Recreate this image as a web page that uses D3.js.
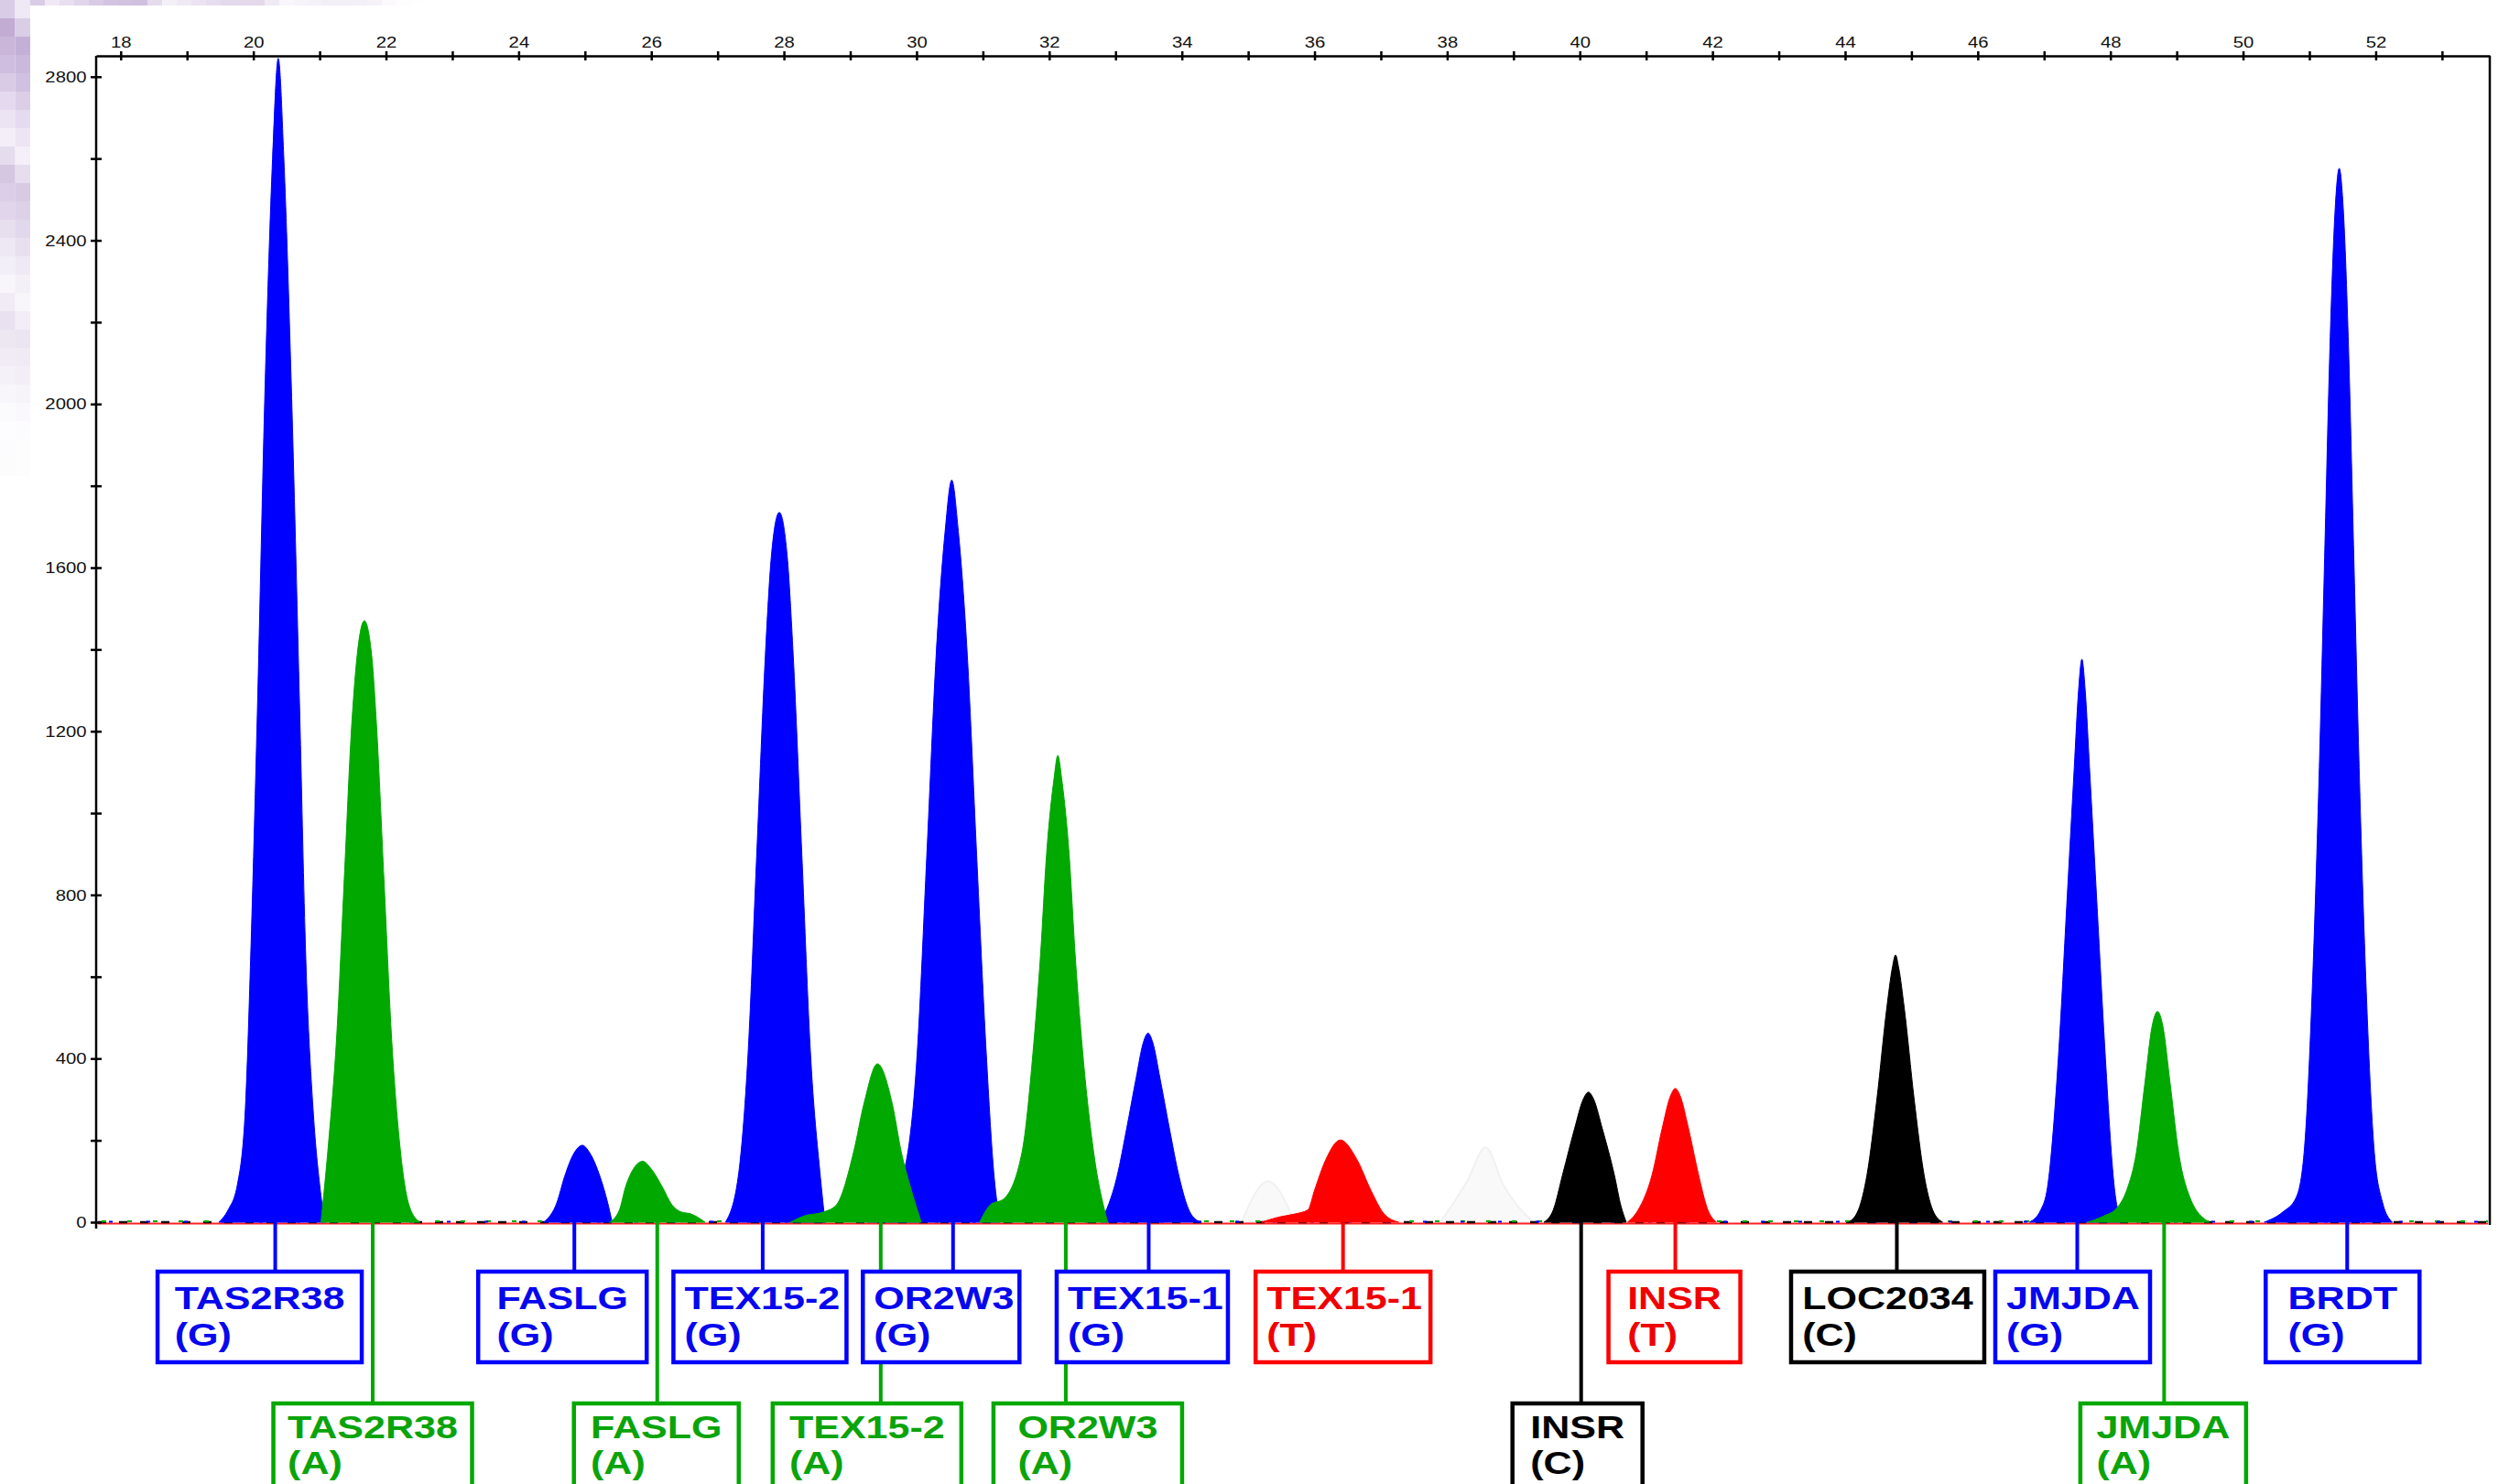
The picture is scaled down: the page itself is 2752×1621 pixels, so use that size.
<!DOCTYPE html>
<html>
<head>
<meta charset="utf-8">
<script src="https://cdn.jsdelivr.net/npm/d3@7/dist/d3.min.js"></script>
<style>
  body { margin: 0; background: #fff; }
  svg { display: block; }
</style>
</head>
<body>
<script>
// electropherogram, SNaPshot style: size (top axis) vs RFU (left axis)

// axis ticks
var sizeTicks = [18, 20, 22, 24, 26, 28, 30, 32, 34, 36, 38, 40, 42, 44, 46, 48, 50, 52];
var sizeMinorTicks = [19, 21, 23, 25, 27, 29, 31, 33, 35, 37, 39, 41, 43, 45, 47, 49, 51, 53];
var rfuTicks = [0, 400, 800, 1200, 1600, 2000, 2400, 2800];
var rfuMinorTicks = [200, 600, 1000, 1400, 1800, 2200, 2600];

// peak traces, [size, rfu]
var tas2r38G = [[19.48,0],[19.62,30],[19.76,92],[19.88,278],[19.96,649],[20.06,1242],[20.18,2059],[20.29,2600],[20.376,2845],[20.46,2600],[20.57,2059],[20.70,1242],[20.79,649],[20.90,278],[21.0,92],[21.05,30],[21.10,0]];
var tas2r38A = [[21.02,0],[21.13,186],[21.26,463],[21.37,835],[21.48,1206],[21.57,1392],[21.674,1470],[21.78,1392],[21.86,1206],[21.97,835],[22.08,463],[22.21,186],[22.35,40],[22.51,0]];
var faslgG = [[24.38,0],[24.58,49],[24.69,110],[24.84,170],[24.96,188],[25.07,170],[25.23,110],[25.34,49],[25.41,0]];
var faslgA = [[25.37,0],[25.52,30],[25.61,85],[25.75,135],[25.87,149],[26.0,130],[26.17,85],[26.3,45],[26.45,25],[26.6,20],[26.7,12],[26.81,0]];
var tex152G = [[27.12,0],[27.31,110],[27.46,414],[27.59,899],[27.72,1385],[27.81,1627],[27.93,1735],[28.05,1627],[28.14,1385],[28.27,899],[28.40,414],[28.55,110],[28.62,0]];
var tex152A = [[28.1,0],[28.3,15],[28.6,25],[28.79,42],[29.05,171],[29.21,292],[29.41,387],[29.63,292],[29.77,171],[29.9,90],[30.07,0]];
var or2w3G = [[29.26,0],[29.55,40],[29.79,110],[30.01,414],[30.155,899],[30.295,1385],[30.43,1688],[30.53,1814],[30.63,1688],[30.765,1385],[30.905,899],[31.05,414],[31.17,110],[31.26,0]];
var or2w3A = [[30.95,0],[31.13,45],[31.3,55],[31.59,171],[31.755,414],[31.87,656],[31.96,899],[32.07,1081],[32.13,1141],[32.19,1081],[32.30,899],[32.39,656],[32.505,414],[32.67,171],[32.88,0]];
var tex151G = [[32.78,0],[33.02,110],[33.17,231],[33.31,352],[33.42,440],[33.49,462],[33.56,440],[33.67,352],[33.81,231],[33.96,110],[34.12,25],[34.28,0]];
var tex151T = [[35.2,0],[35.45,12],[35.7,20],[35.9,30],[36.0,78],[36.17,153],[36.39,201],[36.64,153],[36.85,78],[37.05,20],[37.27,0]];
var insrC = [[39.46,0],[39.6,30],[39.74,116],[39.92,228],[40.05,300],[40.13,318],[40.21,300],[40.34,228],[40.52,116],[40.62,40],[40.70,0]];
var insrT = [[40.72,0],[40.88,30],[41.09,116],[41.24,228],[41.37,310],[41.44,327],[41.51,310],[41.64,228],[41.79,116],[41.93,30],[42.06,0]];
var loc2034C = [[44.05,0],[44.2,30],[44.33,116],[44.48,302],[44.63,526],[44.71,620],[44.76,653],[44.81,620],[44.89,526],[45.04,302],[45.19,116],[45.32,30],[45.47,0]];
var jmjdaG = [[46.78,0],[46.95,30],[47.05,84],[47.225,427],[47.34,769],[47.455,1111],[47.52,1300],[47.57,1376],[47.62,1300],[47.685,1111],[47.80,769],[47.915,427],[48.06,84],[48.17,0]];
var jmjdaA = [[47.65,0],[47.9,15],[48.1,35],[48.25,80],[48.39,169],[48.52,340],[48.63,480],[48.71,515],[48.79,480],[48.9,340],[49.03,169],[49.2,60],[49.49,0]];
var brdtG = [[50.32,0],[50.6,25],[50.80,60],[50.92,169],[51.05,597],[51.15,1111],[51.23,1625],[51.31,2139],[51.39,2480],[51.45,2576],[51.51,2480],[51.59,2139],[51.67,1625],[51.75,1111],[51.85,597],[51.98,169],[52.1,50],[52.25,0]];

// faint ghost peaks in the background
var ghostA = [[34.9,0],[35.3,100],[35.7,0]];
var ghostB = [[37.9,0],[38.3,100],[38.58,183],[38.85,90],[39.3,0]];

// allele calls
var markers = ["TAS2R38", "TAS2R38", "FASLG", "FASLG", "TEX15-2", "TEX15-2", "OR2W3", "OR2W3", "TEX15-1", "TEX15-1", "INSR", "INSR", "LOC2034", "JMJDA", "JMJDA", "BRDT"];
var alleles = ["G", "A", "G", "A", "G", "A", "G", "A", "G", "T", "C", "T", "C", "G", "A", "G"];
var dyes = ["blue", "green", "blue", "green", "blue", "green", "blue", "green", "blue", "red", "black", "red", "black", "blue", "green", "blue"];
var callSizes = [20.33, 21.80, 24.84, 26.09, 27.68, 29.46, 30.55, 32.25, 33.50, 36.43, 40.02, 41.44, 44.78, 47.50, 48.81, 51.57];
var labelRows = [1, 2, 1, 2, 1, 2, 1, 2, 1, 1, 2, 1, 1, 1, 2, 1];
var traces = [tas2r38G, tas2r38A, faslgG, faslgA, tex152G, tex152A, or2w3G, or2w3A, tex151G, tex151T, insrC, insrT, loc2034C, jmjdaG, jmjdaA, brdtG];

// label box layout (px): width and shift of the box centre from its connector
var boxWidths = [223, 217, 184, 180, 189, 206, 171, 206, 187, 191, 142, 144, 211, 169, 181, 168];
var boxShifts = [-17, 0, -13, -1, -3, -15, -13, 24, -7, 0, -4, -1, -10, -5, -1, -5];

var dyeColor = { blue: "#0000ff", green: "#00a800", red: "#ff0000", black: "#000000" };
var textColor = { blue: "#0707ee", green: "#0aa40a", red: "#f00000", black: "#000000" };
var dyeOrder = ["blue", "green", "black", "red"];

var W = 2752, H = 1621;
var plotLeft = 105, plotRight = 2719, plotTop = 61, plotZero = 1335;
var stretch = 1.23; // the picture is a bit wider than tall

var svg = d3.select("body").append("svg")
  .attr("width", W)
  .attr("height", H);

svg.append("rect").attr("width", W).attr("height", H).attr("fill", "#fff");

// lavender slide background peeking in at the top left
var lav = ["#d9cce6", "#c9b6da", "#e6dcef", "#bfa9d2", "#d2c2e0", "#efe8f5", "#c4b0d6", "#ddd0ea"];
var deco = svg.append("g");
for (var r = 0; r < 26; r++) {
  for (var c = 0; c < 2; c++) {
    deco.append("rect")
      .attr("x", c * 16.5).attr("y", r * 20)
      .attr("width", 16.5).attr("height", 20)
      .attr("fill", lav[(r * 3 + c * 5) % lav.length])
      .attr("opacity", Math.max(0, 1 - r / 26));
  }
}
for (var k = 0; k < 27; k++) {
  deco.append("rect")
    .attr("x", 33 + k * 16).attr("y", 0)
    .attr("width", 16).attr("height", 6)
    .attr("fill", lav[(k * 5) % lav.length])
    .attr("opacity", Math.max(0, 1 - k / 27));
}

var x = d3.scaleLinear().domain([17.63, 53.72]).range([plotLeft, plotRight]);
var y = d3.scaleLinear().domain([0, 2851]).range([plotZero, plotTop]);

var area = d3.area()
  .x(function(d) { return x(d[0]); })
  .y0(y(0))
  .y1(function(d) { return y(d[1]); })
  .curve(d3.curveMonotoneX);

// ghost peaks
svg.selectAll(".ghost")
  .data([ghostA, ghostB])
  .enter().append("path")
  .attr("class", "ghost")
  .attr("d", area)
  .attr("fill", "#f9f9f9")
  .attr("stroke", "#f1f1f1")
  .attr("stroke-width", 2);

// baseline noise of the four dyes
var base = svg.append("g");
base.append("line").attr("x1", plotLeft + 2).attr("x2", plotRight - 2)
  .attr("y1", y(0) + 1.5).attr("y2", y(0) + 1.5)
  .attr("stroke", "#ff2020").attr("stroke-width", 2);
base.append("line").attr("x1", plotLeft + 2).attr("x2", plotRight - 2)
  .attr("y1", y(0)).attr("y2", y(0))
  .attr("stroke", "#111").attr("stroke-width", 2.5)
  .attr("stroke-dasharray", "9 14");
base.append("line").attr("x1", plotLeft + 6).attr("x2", plotRight - 2)
  .attr("y1", y(0) - 1).attr("y2", y(0) - 1)
  .attr("stroke", "#00a800").attr("stroke-width", 2)
  .attr("stroke-dasharray", "5 23");
base.append("line").attr("x1", plotLeft + 14).attr("x2", plotRight - 2)
  .attr("y1", y(0) - 0.5).attr("y2", y(0) - 0.5)
  .attr("stroke", "#0000ff").attr("stroke-width", 2)
  .attr("stroke-dasharray", "4 37");

// peaks, one dye after the other
var peaks = traces.map(function(t, i) {
  return { trace: t, dye: dyes[i] };
}).sort(function(a, b) {
  return dyeOrder.indexOf(a.dye) - dyeOrder.indexOf(b.dye);
});

svg.selectAll(".peak")
  .data(peaks)
  .enter().append("path")
  .attr("class", "peak")
  .attr("d", function(d) { return area(d.trace); })
  .attr("fill", function(d) { return dyeColor[d.dye]; })
  .attr("stroke", function(d) { return dyeColor[d.dye]; })
  .attr("stroke-width", 1);

// top axis (size)
var xAxis = svg.append("g")
  .attr("transform", "translate(0," + plotTop + ")")
  .call(d3.axisTop(x)
    .tickValues(sizeTicks.concat(sizeMinorTicks))
    .tickFormat(function(d) { return sizeTicks.indexOf(d) >= 0 ? d : ""; })
    .tickSize(5)
    .tickSizeOuter(0));
xAxis.select(".domain").attr("stroke", "#000").attr("stroke-width", 2.5);
xAxis.selectAll(".tick line").attr("y1", 5).attr("stroke", "#000").attr("stroke-width", 2.5);
xAxis.selectAll(".tick text")
  .attr("y", null).attr("dy", null)
  .attr("transform", "translate(0,-9.5) scale(" + stretch + ",1)")
  .attr("font-family", "Liberation Sans, Arial, sans-serif")
  .attr("font-size", 16.5)
  .attr("fill", "#111");

// left axis (rfu)
var yAxis = svg.append("g")
  .attr("transform", "translate(" + plotLeft + ",0)")
  .call(d3.axisLeft(y)
    .tickValues(rfuTicks.concat(rfuMinorTicks))
    .tickFormat(function(d) { return rfuTicks.indexOf(d) >= 0 ? d : ""; })
    .tickSize(6)
    .tickSizeOuter(0));
yAxis.select(".domain").remove();
yAxis.selectAll(".tick line").attr("x1", 6).attr("stroke", "#000").attr("stroke-width", 2.5);
yAxis.selectAll(".tick text")
  .attr("x", null).attr("dy", "0.34em")
  .attr("transform", "translate(-10.5,0) scale(" + stretch + ",1)")
  .attr("font-family", "Liberation Sans, Arial, sans-serif")
  .attr("font-size", 16.5)
  .attr("fill", "#111");

svg.append("line")
  .attr("x1", plotLeft).attr("x2", plotLeft)
  .attr("y1", plotTop).attr("y2", plotZero + 7)
  .attr("stroke", "#000").attr("stroke-width", 2.5);
svg.append("line")
  .attr("x1", plotRight).attr("x2", plotRight)
  .attr("y1", plotTop).attr("y2", plotZero + 3)
  .attr("stroke", "#000").attr("stroke-width", 2.5);

// allele call boxes
var rowTop = { 1: 1389, 2: 1533 };
var lineBase = { 1: [41, 81], 2: [38, 77] };
var boxH = 99;

var calls = markers.map(function(m, i) {
  return { marker: m, allele: alleles[i], dye: dyes[i], size: callSizes[i], row: labelRows[i],
           w: boxWidths[i], shift: boxShifts[i] };
});

var labels = svg.append("g");

labels.selectAll(".connector")
  .data(calls)
  .enter().append("line")
  .attr("x1", function(d) { return x(d.size); })
  .attr("x2", function(d) { return x(d.size); })
  .attr("y1", y(0))
  .attr("y2", function(d) { return rowTop[d.row]; })
  .attr("stroke", function(d) { return dyeColor[d.dye]; })
  .attr("stroke-width", 4);

calls.forEach(function(d) {
  var g = labels.append("g");
  var box = g.append("rect");
  var t1 = g.append("text").text(d.marker);
  var t2 = g.append("text").text("(" + d.allele + ")");
  [t1, t2].forEach(function(t) {
    t.attr("font-family", "Liberation Sans, Arial, sans-serif")
      .attr("font-weight", "bold")
      .attr("font-size", 35)
      .attr("fill", textColor[d.dye]);
  });
  var tw = Math.max(t1.node().getComputedTextLength(), t2.node().getComputedTextLength()) * stretch;
  var left = x(d.size) + d.shift - d.w / 2;
  var top = rowTop[d.row];
  var tx = left + Math.max(12, (d.w - tw) / 2);
  box.attr("x", left).attr("y", top)
    .attr("width", d.w).attr("height", boxH)
    .attr("fill", "#fff")
    .attr("stroke", dyeColor[d.dye])
    .attr("stroke-width", 4.5);
  t1.attr("transform", "translate(" + tx + "," + (top + lineBase[d.row][0]) + ") scale(" + stretch + ",1)");
  t2.attr("transform", "translate(" + tx + "," + (top + lineBase[d.row][1]) + ") scale(" + stretch + ",1)");
});
</script>
</body>
</html>
